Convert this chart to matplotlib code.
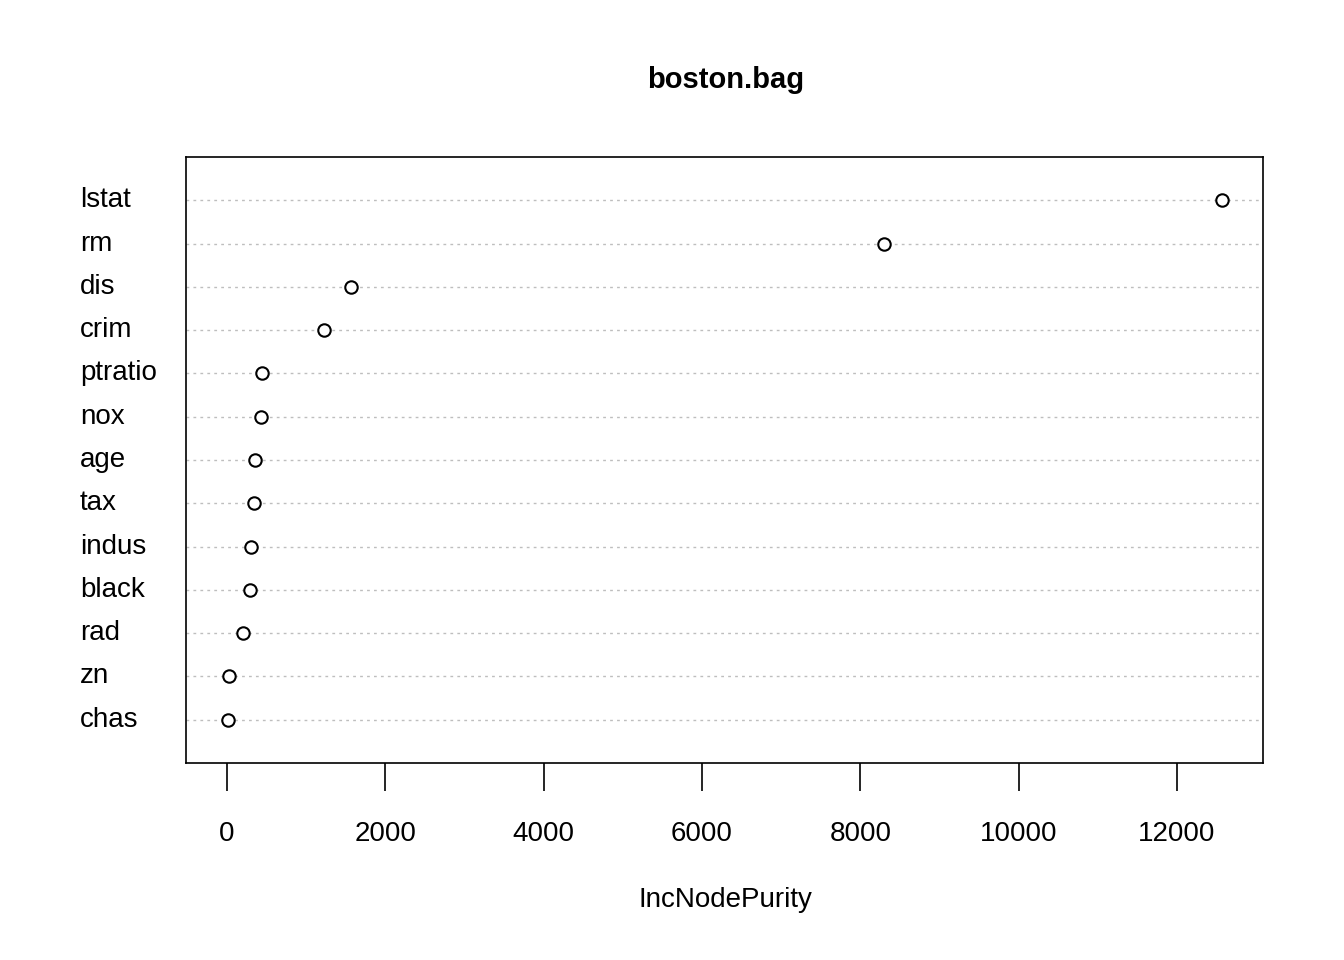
import matplotlib
matplotlib.use("Agg")
import matplotlib.pyplot as plt

# variable importance (IncNodePurity), top to bottom as drawn
variables = ["lstat", "rm", "dis", "crim", "ptratio", "nox", "age", "tax",
             "indus", "black", "rad", "zn", "chas"]
purity = [12570, 8300, 1566, 1225, 442, 429, 354, 341, 303, 290, 202, 25, 13]
xticks = [0, 2000, 4000, 6000, 8000, 10000, 12000]

plt.rcParams['font.family'] = ['Liberation Sans', 'DejaVu Sans']

fig = plt.figure(figsize=(13.44, 9.6), dpi=100)
ax = fig.add_axes([186 / 1344, 1 - 763 / 960, (1263 - 186) / 1344, (763 - 157) / 960])

n = len(variables)
ypos = list(range(n, 0, -1))
for y in ypos:
    ax.axhline(y, color="#bebebe", linestyle=(0, (2, 3)), linewidth=1, zorder=1)
ax.scatter(purity, ypos, s=80, facecolors="white", edgecolors="black",
           linewidths=1.5, zorder=3)

ax.set_xlim(-518, 13086)
ax.set_ylim(0, n + 1)
ax.set_xticks(xticks)
ax.set_xticklabels([str(t) for t in xticks])
ax.tick_params(axis="x", direction="out", length=20, width=1.2, pad=22, labelsize=20)
ax.set_yticks([])
for y, name in zip(ypos, variables):
    ax.text(80 / 1344, ax.transData.transform((0, y))[1] / 960, name,
            transform=fig.transFigure, ha="left", va="center", fontsize=20)
for s in ax.spines.values():
    s.set_linewidth(1.2)

fig.text(0.54, 1 - 80 / 960, "boston.bag", ha="center", va="center",
         fontsize=21, fontweight="bold")
fig.text(0.54, 1 - 900 / 960, "IncNodePurity", ha="center", va="center", fontsize=20)

fig.savefig("out.png", dpi=100)
